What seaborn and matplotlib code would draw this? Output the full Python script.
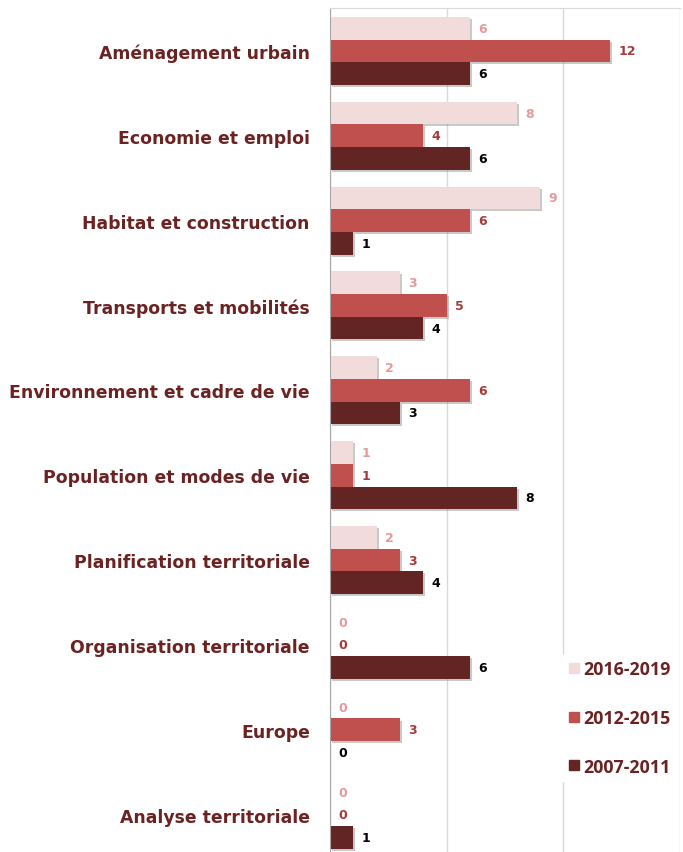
import matplotlib
matplotlib.use("Agg")
import matplotlib.pyplot as plt
import matplotlib.patheffects as pe
from matplotlib.lines import Line2D
import seaborn as sns
import pandas as pd

categories = ["Aménagement urbain", "Economie et emploi", "Habitat et construction",
              "Transports et mobilités", "Environnement et cadre de vie",
              "Population et modes de vie", "Planification territoriale",
              "Organisation territoriale", "Europe", "Analyse territoriale"]
periods = ["2016-2019", "2012-2015", "2007-2011"]
v_2016_2019 = [6, 8, 9, 3, 2, 1, 2, 0, 0, 0]
v_2012_2015 = [12, 4, 6, 5, 6, 1, 3, 0, 3, 0]
v_2007_2011 = [6, 6, 1, 4, 3, 8, 4, 6, 0, 1]

bar_colors = ["#F2DCDB", "#C0504D", "#632523"]
label_colors = ["#E59A9A", "#A63A3A", "#000000"]
text_color = "#6B2222"

rows = []
for p, vals in zip(periods, [v_2016_2019, v_2012_2015, v_2007_2011]):
    for c, v in zip(categories, vals):
        rows.append({"cat": c, "period": p, "value": v})
df = pd.DataFrame(rows)

sns.set_style("white")
plt.rcParams["font.family"] = ["DejaVu Sans"]

fig = plt.figure(figsize=(6.83, 8.53), dpi=100)
ax = fig.add_axes([330 / 683, -0.006, 350 / 683, 0.995])

sns.barplot(data=df, y="cat", x="value", hue="period", order=categories,
            hue_order=periods, palette=bar_colors, orient="h", width=0.8,
            ax=ax, legend=False, saturation=1, linewidth=0)

for cont, lc in zip(ax.containers, label_colors):
    for bar in cont:
        bar.set_path_effects([pe.SimplePatchShadow(offset=(1.5, -1.5), shadow_rgbFace="#888888", alpha=0.45), pe.Normal()])
    ax.bar_label(cont, padding=6, color=lc, fontsize=9, fontweight="bold")

ax.set_xlim(0, 15)
ax.set_xticks([0, 5, 10, 15])
ax.set_xticklabels([])
ax.xaxis.grid(True, color="#D9D9D9", linewidth=1)
ax.set_axisbelow(True)
ax.set_xlabel("")
ax.set_ylabel("")

ax.set_yticks(range(len(categories)))
ax.set_yticklabels(categories, fontsize=12.4, fontweight="bold", color=text_color)
ax.tick_params(axis="y", length=0, pad=14.5)
ax.tick_params(axis="x", length=0)
ax.set_yticks([i - 0.5 for i in range(len(categories) + 1)], minor=True)
ax.tick_params(axis="y", which="minor", length=5, color="#A6A6A6", width=1)

for s in ["right", "bottom"]:
    ax.spines[s].set_visible(False)
ax.spines["top"].set_color("#D9D9D9")
ax.spines["left"].set_color("#A6A6A6")

handles = [Line2D([0], [0], marker="s", linestyle="", markersize=7.5,
                  markerfacecolor=c, markeredgecolor=c) for c in bar_colors]
leg = fig.legend(handles, periods, loc="center left",
                 bbox_to_anchor=(558 / 683, 1 - 719 / 853), frameon=True,
                 facecolor="white", edgecolor="white", framealpha=1,
                 labelspacing=1.72, handletextpad=-0.1, handlelength=1.2,
                 borderpad=0.3, borderaxespad=0,
                 prop={"family": "Open Sans", "weight": "bold", "size": 12.8})
for t in leg.get_texts():
    t.set_color(text_color)

fig.savefig("out.png", dpi=100)
